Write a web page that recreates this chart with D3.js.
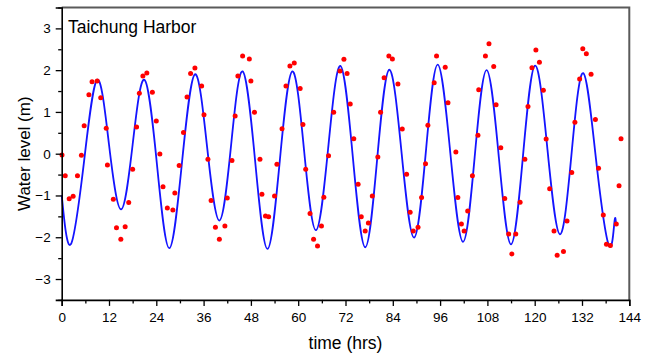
<!DOCTYPE html>
<html>
<head>
<meta charset="utf-8">
<script src="https://cdn.jsdelivr.net/npm/d3@7"></script>
<style>
html,body{margin:0;padding:0;background:#fff;}
svg{display:block;}
text{font-family:"Liberation Sans",Arial,sans-serif;fill:#000;}
</style>
</head>
<body>
<script>
// ---- data ----
const obsTime = [0.08,0.9,1.9,2.9,4.0,5.0,5.7,6.9,7.7,9.0,9.9,11.3,11.6,13.1,13.9,15.0,16.1,17.0,18.0,19.0,19.7,20.6,21.6,23.0,24.0,
  24.9,25.7,26.8,28.2,28.7,29.8,30.9,31.8,32.7,33.8,35.5,36.1,37.1,37.9,39.0,40.0,41.4,42.0,43.2,44.0,44.7,45.9,47.6,48.0,48.9,
  50.3,50.8,51.7,52.5,54.0,54.6,55.9,56.9,57.9,59.0,60.5,61.2,61.9,63.0,63.9,64.9,65.9,66.5,67.7,69.0,70.6,71.6,72.4,73.2,
  74.1,75.2,76.0,77.0,77.8,78.8,80.2,80.9,81.8,83.0,83.9,85.3,86.4,87.5,88.4,89.2,90.4,91.3,92.3,92.9,94.5,95.1,97.3,98.0,
  100.0,100.5,101.4,102.1,103.0,104.2,105.6,105.8,107.5,108.4,109.6,110.2,111.4,112.4,113.4,114.2,115.2,116.3,117.5,118.3,119.3,120.3,121.2,122.2,122.9,
  123.8,124.9,125.7,127.3,128.2,129.4,130.2,131.4,132.2,133.1,134.3,135.4,136.2,137.4,138.2,139.2,140.7,141.4,141.9];
const obsLevel = [-0.03,-0.53,-1.08,-1.02,-0.53,-0.04,0.67,1.41,1.72,1.74,1.34,0.61,-0.27,-1.09,-1.77,-2.05,-1.75,-1.17,-0.37,0.64,1.45,1.86,1.93,1.47,0.78,
  -0.01,-0.79,-1.30,-1.35,-0.94,-0.28,0.51,1.36,1.92,2.05,1.62,0.93,-0.13,-1.12,-1.76,-2.05,-1.73,-1.06,-0.16,0.90,1.86,2.34,2.27,1.74,0.99,
  -0.13,-0.97,-1.49,-1.51,-1.01,-0.25,0.60,1.62,2.10,2.17,1.56,0.70,-0.37,-1.43,-2.05,-2.21,-1.73,-1.04,-0.05,0.99,1.98,2.26,1.92,1.19,
  0.36,-0.73,-1.51,-1.85,-1.66,-1.01,-0.08,0.99,1.82,2.34,2.27,1.67,0.59,-0.49,-1.40,-1.85,-1.76,-1.05,-0.24,0.68,1.70,2.34,2.07,1.22,
  0.04,-1.05,-1.68,-1.85,-1.37,-0.53,0.44,1.53,2.34,2.63,2.09,1.17,0.14,-1.07,-1.92,-2.40,-1.92,-1.16,-0.13,1.13,2.06,2.48,2.19,1.52,0.35,
  -0.84,-1.85,-2.43,-2.34,-1.61,-0.45,0.75,1.79,2.51,2.39,1.90,0.82,-0.35,-1.47,-2.17,-2.20,-1.68,-0.77,0.36];

const fitTime = [0,2.3,5.65,9.0,12.0,15.05,18.0,21.0,24.15,27.3,30.55,33.8,36.9,40.0,42.95,45.9,49.05,52.2,55.35,58.5,61.5,64.5,67.6,70.7,
  73.85,77.0,80.05,83.1,86.25,89.4,92.4,95.4,98.6,101.8,104.8,107.8,110.9,114.0,117.05,120.1,123.25,126.4,129.35,132.3,135.55,138.8,140.2,140.6];
const fitLevel = [-0.99,-2.17,-0.2,1.77,0.22,-1.33,0.22,1.77,-0.24,-2.26,-0.18,1.9,0.15,-1.6,0.18,1.97,-0.15,-2.28,-0.15,1.97,0.07,-1.83,0.13,2.1,
  -0.07,-2.24,-0.11,2.01,0.0,-2.01,0.06,2.13,0.01,-2.11,-0.05,2.0,-0.08,-2.17,-0.03,2.11,0.09,-1.93,0.0,1.93,-0.13,-2.19,-1.66,-1.65];

const xTicks = [0,12,24,36,48,60,72,84,96,108,120,132,144];
const xMinorTicks = [6,18,30,42,54,66,78,90,102,114,126,138];
const yTicks = [-3,-2,-1,0,1,2,3];
const yMinorTicks = [-3.5,-2.5,-1.5,-0.5,0.5,1.5,2.5,3.5];

const titleText = "Taichung Harbor";
const xLabel = "time (hrs)";
const yLabel = "Water level (m)";

// ---- drawing ----
const W = 656, H = 357;
const svg = d3.select("body").append("svg").attr("width", W).attr("height", H);

const x = d3.scaleLinear().domain([0,144]).range([61.7,629.3]);
const y = d3.scaleLinear().domain([-3.5,3.5]).range([299.9,7.5]);

// frame top/right (gray)
svg.append("path")
  .attr("d", `M${x(0)},${y(3.5)}H${x(144)}V${y(-3.5)}`)
  .attr("fill","none").attr("stroke","#5a5a5a").attr("stroke-width",2);

// fitted line
const line = d3.line().x((d,i)=>x(fitTime[i])).y((d,i)=>y(fitLevel[i])).curve(d3.curveNatural);
svg.append("path").datum(fitLevel).attr("d", line)
  .attr("fill","none").attr("stroke","#1414ff").attr("stroke-width",1.8);

// observed dots
svg.append("g").selectAll("circle").data(obsLevel).join("circle")
  .attr("cx",(d,i)=>x(obsTime[i])).attr("cy",d=>y(d)).attr("r",2.5).attr("fill","#ff0000");

// axes
const fmt = d3.format("d");
const gx = svg.append("g").attr("transform",`translate(0,${y(-3.5)})`)
  .call(d3.axisBottom(x).tickValues(xTicks).tickFormat(fmt).tickSize(6).tickPadding(6.5));
const gxm = svg.append("g").attr("transform",`translate(0,${y(-3.5)})`)
  .call(d3.axisBottom(x).tickValues(xMinorTicks).tickFormat("").tickSize(3.5));
const gy = svg.append("g").attr("transform",`translate(${x(0)},0)`)
  .call(d3.axisLeft(y).tickValues(yTicks).tickFormat(fmt).tickSize(6).tickPadding(5));
const gym = svg.append("g").attr("transform",`translate(${x(0)},0)`)
  .call(d3.axisLeft(y).tickValues(yMinorTicks).tickFormat("").tickSize(3.5));

[gx,gxm,gy,gym].forEach(g=>{
  g.select(".domain").attr("stroke","#000").attr("stroke-width",1.6);
  g.selectAll(".tick line").attr("stroke","#000").attr("stroke-width",1.3);
  g.selectAll(".tick text").style("font-size","13.5px").style("font-family","'Liberation Sans',Arial,sans-serif").attr("fill","#222");
});
gxm.select(".domain").remove(); gym.select(".domain").remove();

// title
svg.append("text").attr("x",68).attr("y",33).style("font-size","17.5px").text(titleText);

// axis labels
svg.append("text").attr("x",(x(0)+x(144))/2).attr("y",349).attr("text-anchor","middle")
  .style("font-size","17.5px").text(xLabel);
svg.append("text").attr("transform",`translate(30,${y(0)}) rotate(-90)`).attr("text-anchor","middle")
  .style("font-size","17px").text(yLabel);
</script>
</body>
</html>
